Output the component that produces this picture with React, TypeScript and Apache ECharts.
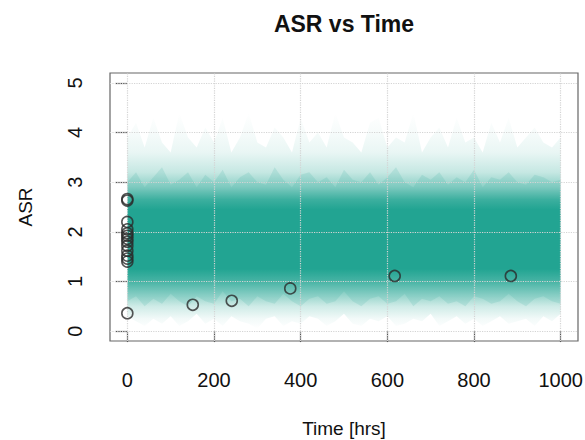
import React, { useEffect, useRef } from "react";
import * as echarts from "echarts";

// ---- data ----
const times = [0, 20, 40, 60, 80, 100, 120, 140, 160, 180, 200, 220, 240, 260, 280, 300, 320, 340, 360, 380, 400, 420, 440, 460, 480, 500, 520, 540, 560, 580, 600, 620, 640, 660, 680, 700, 720, 740, 760, 780, 800, 820, 840, 860, 880, 900, 920, 940, 960, 980, 1000];

// outer faint envelope of the simulated ASR trajectories
const hazeHi = [3.9, 4.2, 3.7, 4.3, 3.8, 3.6, 4.4, 3.9, 3.7, 4.1, 3.8, 4.3, 3.6, 3.9, 4.4, 3.8, 3.7, 4.1, 3.9, 3.6, 4.3, 3.8, 4.0, 3.7, 4.4, 3.9, 3.8, 3.6, 4.2, 4.3, 3.7, 3.9, 3.8, 4.4, 3.6, 3.9, 4.1, 3.7, 4.3, 3.8, 3.9, 3.6, 4.2, 3.8, 4.3, 3.7, 3.9, 4.1, 3.8, 3.7, 3.9];
const hazeLo = [0.3, 0.2, 0.1, 0.25, 0.15, 0.3, 0.1, 0.2, 0.35, 0.15, 0.25, 0.1, 0.3, 0.2, 0.15, 0.05, 0.25, 0.3, 0.1, 0.2, 0.15, 0.3, 0.25, 0.1, 0.2, 0.35, 0.15, 0.1, 0.25, 0.2, 0.3, 0.1, 0.15, 0.25, 0.2, 0.35, 0.1, 0.2, 0.3, 0.15, 0.25, 0.1, 0.2, 0.3, 0.15, 0.2, 0.25, 0.1, 0.3, 0.2, 0.35];
// medium-density envelope
const midHi = [3.0, 3.2, 2.9, 3.1, 3.3, 2.95, 3.05, 3.2, 2.9, 3.15, 3.0, 3.25, 2.9, 3.1, 3.2, 3.0, 2.95, 3.3, 3.05, 2.9, 3.15, 3.2, 3.0, 3.1, 2.9, 3.25, 3.05, 3.0, 3.2, 2.95, 3.1, 3.3, 3.0, 2.9, 3.15, 3.05, 3.2, 2.95, 3.1, 3.0, 3.25, 2.9, 3.1, 3.05, 3.2, 3.0, 2.95, 3.15, 3.1, 3.0, 3.05];
const midLo = [0.6, 0.7, 0.5, 0.65, 0.55, 0.75, 0.6, 0.5, 0.7, 0.6, 0.55, 0.8, 0.6, 0.65, 0.5, 0.7, 0.6, 0.55, 0.75, 0.6, 0.5, 0.65, 0.7, 0.55, 0.6, 0.8, 0.6, 0.5, 0.65, 0.7, 0.55, 0.6, 0.75, 0.5, 0.65, 0.6, 0.7, 0.55, 0.6, 0.5, 0.7, 0.65, 0.55, 0.6, 0.75, 0.6, 0.5, 0.65, 0.7, 0.6, 0.55];

// density profile (value -> opacity) of the trajectory cloud
const densityLevels = [4.5, 4.0, 3.6, 3.2, 2.9, 2.65, 2.45, 1.25, 1.0, 0.75, 0.5, 0.25, 0.0];
const densityAlpha = [0, 0.04, 0.1, 0.26, 0.52, 0.86, 1, 1, 0.8, 0.5, 0.22, 0.06, 0];

// observed points
const obsTime = [0, 0, 0, 0, 0, 0, 0, 0, 0, 0, 0, 0, 0, 0, 151, 241, 376, 617, 885];
const obsASR = [2.66, 2.63, 2.2, 2.05, 1.97, 1.92, 1.86, 1.8, 1.72, 1.62, 1.52, 1.46, 1.4, 0.36, 0.53, 0.61, 0.86, 1.11, 1.11];

const xTicks = [0, 200, 400, 600, 800, 1000];
const yTicks = [0, 1, 2, 3, 4, 5];

const TEAL = [34, 165, 146];
const FONT = "'Liberation Sans', Arial, Helvetica, sans-serif";

function bandSeries(name: string, lo: number[], hi: number[], fill: any, z: number) {
  return {
    name,
    type: "custom",
    z,
    silent: true,
    data: [[times[0], lo[0]]],
    renderItem: (_params: any, api: any) => {
      const upper = times.map((t, i) => api.coord([t, hi[i]]));
      const lower = times.map((t, i) => api.coord([t, lo[i]])).reverse();
      return {
        type: "polygon",
        shape: { points: [...upper, ...lower] },
        style: { fill },
        silent: true,
      };
    },
  };
}

export default function App() {
  const ref = useRef<HTMLDivElement>(null);

  useEffect(() => {
    if (!ref.current) return;
    const chart = echarts.init(ref.current, undefined, { renderer: "svg" });

    const top = Math.max(...hazeHi);
    const bottom = Math.min(...hazeLo);
    const stops = densityLevels.map((v, i) => ({
      offset: Math.min(1, Math.max(0, (top - v) / (top - bottom))),
      color: `rgba(${TEAL[0]},${TEAL[1]},${TEAL[2]},${densityAlpha[i]})`,
    }));

    chart.setOption({
      animation: false,
      backgroundColor: "#fff",
      textStyle: { fontFamily: FONT },
      graphic: [
        {
          type: "text",
          x: 344,
          y: 24,
          style: {
            text: "ASR vs Time",
            textAlign: "center",
            textVerticalAlign: "middle",
            font: `bold 23px ${FONT}`,
            fill: "#111",
          },
        },
      ],
      grid: {
        left: 110,
        right: 7,
        top: 73,
        bottom: 99,
        show: true,
        outerBoundsMode: "none",
        containLabel: false,
        borderColor: "#666",
        borderWidth: 1.2,
        backgroundColor: "transparent",
      },
      xAxis: {
        type: "value",
        min: -40,
        max: 1040,
        name: "Time [hrs]",
        nameLocation: "middle",
        nameGap: 76,
        nameTextStyle: { fontSize: 19, color: "#111", fontFamily: FONT },
        axisLine: { show: false },
        offset: 2,
        axisTick: { show: true, length: 11, customValues: xTicks, lineStyle: { color: "#555", width: 1.2 } },
        axisLabel: {
          customValues: xTicks,
          fontSize: 20,
          color: "#111",
          margin: 27,
          fontFamily: FONT,
          formatter: (v: number) => String(v),
        },
        splitLine: { show: false },
      },
      yAxis: {
        type: "value",
        min: -0.2,
        max: 5.2,
        name: "ASR",
        nameLocation: "middle",
        nameGap: 75,
        nameTextStyle: { fontSize: 19, color: "#111", fontFamily: FONT },
        axisLine: { show: false },
        axisTick: { show: true, length: 12, customValues: yTicks, lineStyle: { color: "#555", width: 1.2 } },
        axisLabel: {
          customValues: yTicks,
          fontSize: 20,
          color: "#111",
          margin: 25,
          rotate: 90,
          fontFamily: FONT,
          formatter: (v: number) => String(v),
        },
        splitLine: { show: false },
      },
      series: [
        {
          type: "line",
          data: [],
          z: 1,
          silent: true,
          markLine: {
            silent: true,
            symbol: "none",
            label: { show: false },
            lineStyle: { color: "#d4d4d4", type: "dotted", width: 1.2 },
            data: [
              ...yTicks.map((v) => ({ yAxis: v })),
              ...xTicks.map((v) => ({ xAxis: v })),
            ],
          },
        },
        bandSeries("haze", hazeLo, hazeHi, new echarts.graphic.LinearGradient(0, 0, 0, 1, stops), 2),
        bandSeries("mid", midLo, midHi, `rgba(${TEAL[0]},${TEAL[1]},${TEAL[2]},0.14)`, 3),
        {
          name: "observed",
          type: "scatter",
          data: obsTime.map((t, i) => [t, obsASR[i]]),
          symbol: "circle",
          symbolSize: 11,
          itemStyle: { color: "rgba(0,0,0,0)", borderColor: "#2b2b2b", borderWidth: 1.6 },
          z: 5,
        },
      ],
    });

    return () => chart.dispose();
  }, []);

  return (
    <div
      ref={ref}
      style={{ position: "fixed", left: 0, top: 0, width: 585, height: 440, background: "#fff" }}
    />
  );
}
